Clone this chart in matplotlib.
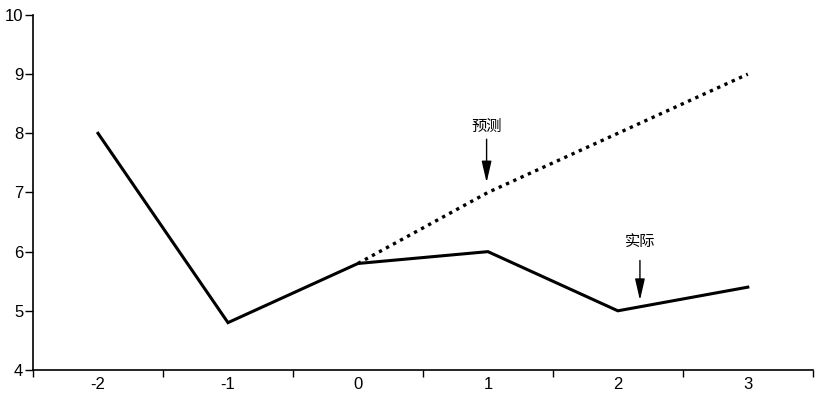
import matplotlib.pyplot as plt

plt.rcParams['font.family'] = ['Liberation Sans', 'Noto Sans CJK SC', 'DejaVu Sans']

x_vals = [-2, -1, 0, 1, 2, 3]
actual = [8.0, 4.8, 5.8, 6.0, 5.0, 5.4]
forecast_x = [0, 1, 2, 3]
forecast = [5.8, 7.0, 8.0, 9.0]
y_ticks = [4, 5, 6, 7, 8, 9, 10]

fig = plt.figure(figsize=(8.26, 3.98), dpi=100)
ax = fig.add_axes([0.04, 0.0704, 0.944, 0.892])

ax.plot(forecast_x, forecast, color='black', lw=2.4, linestyle=(0, (1, 1.4)))
ax.plot(x_vals, actual, color='black', lw=2.2, solid_joinstyle='miter')

arrow = dict(arrowstyle='-|>,head_length=1.3,head_width=0.3', color='black', lw=1, shrinkA=0, shrinkB=0)
ax.annotate('', xy=(0.99, 7.17), xytext=(0.99, 7.9), arrowprops=arrow)
ax.text(0.99, 8.11, '预测', ha='center', va='center', fontsize=11,
        family=['Noto Sans CJK SC', 'DejaVu Sans'])
ax.annotate('', xy=(2.17, 5.18), xytext=(2.17, 5.85), arrowprops=arrow)
ax.text(2.17, 6.16, '实际', ha='center', va='center', fontsize=11,
        family=['Noto Sans CJK SC', 'DejaVu Sans'])

ax.set_xlim(-2.5, 3.5)
ax.set_ylim(4, 10)
ax.set_yticks(y_ticks)
ax.set_xticks([v + 0.5 for v in x_vals[:-1]] + [-2.5, 3.5])
ax.set_xticklabels([])
ax.set_xticks(x_vals, minor=True)
ax.set_xticklabels([str(v) for v in x_vals], minor=True)
ax.tick_params(axis='x', which='minor', length=0, labelsize=12, pad=5)
ax.tick_params(axis='x', which='major', length=5, width=1, direction='out')
ax.tick_params(axis='y', length=6, width=1, labelsize=12, pad=1)

for side in ['top', 'right']:
    ax.spines[side].set_visible(False)
for side in ['left', 'bottom']:
    ax.spines[side].set_linewidth(1.2)

fig.savefig('out.png', dpi=100)
